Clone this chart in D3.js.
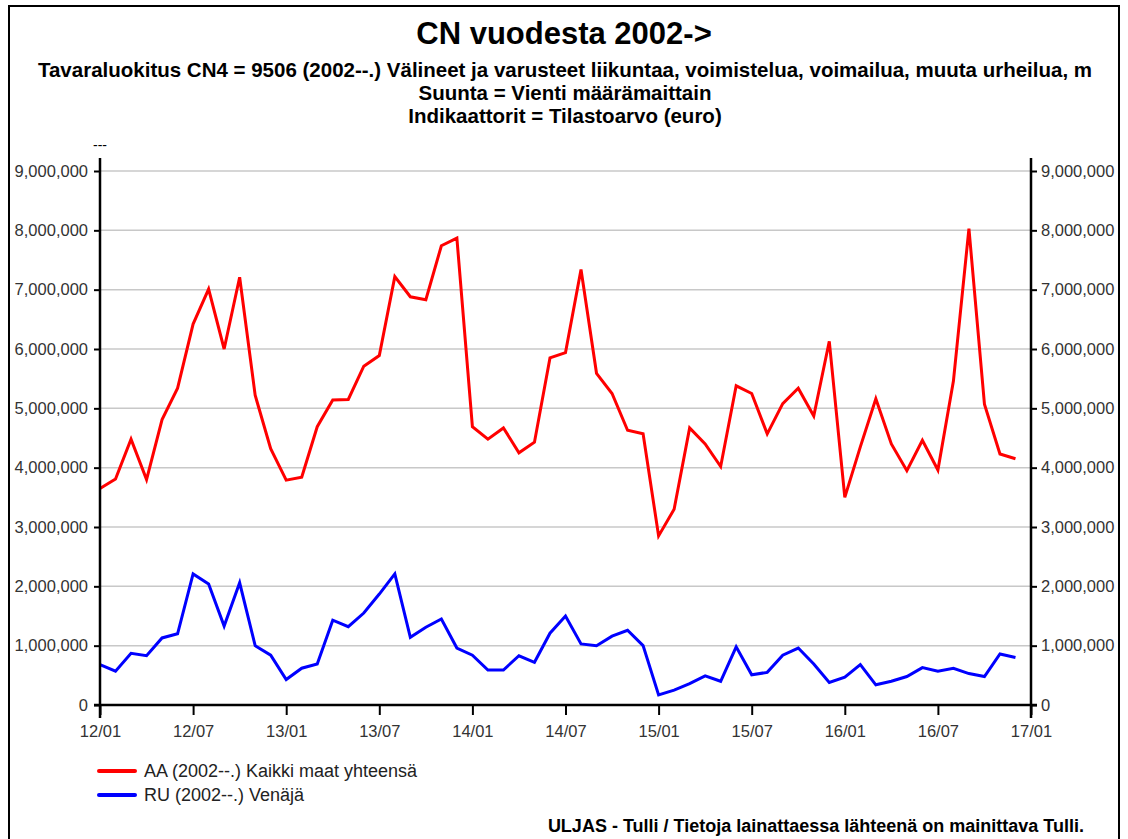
<!DOCTYPE html>
<html>
<head>
<meta charset="utf-8">
<script src="https://cdn.jsdelivr.net/npm/d3@7"></script>
<style>
  body { margin: 0; background: #fff; }
  svg { font-family: "Liberation Sans", Arial, sans-serif; }
</style>
</head>
<body>
<svg id="chart"></svg>
<script>
var svg_width = 1128;
var svg_height = 839;

// DATA (monthly, 2012/01 .. 2016/12)
var tickLabels = ["12/01", "12/07", "13/01", "13/07", "14/01", "14/07", "15/01", "15/07", "16/01", "16/07", "17/01"];
var seriesNames = ["AA (2002--.) Kaikki maat yhteensä", "RU (2002--.) Venäjä"];
var seriesColors = ["#ff0000", "#0000ff"];

var totalValues = [
  3650000, 3810000, 4480000, 3800000, 4810000, 5340000, 6420000, 7010000, 6000000, 7210000, 5220000, 4320000,
  3790000, 3840000, 4690000, 5140000, 5150000, 5710000, 5890000, 7220000, 6880000, 6830000, 7740000, 7870000,
  4690000, 4480000, 4670000, 4250000, 4430000, 5850000, 5940000, 7340000, 5590000, 5250000, 4630000, 4570000,
  2850000, 3300000, 4670000, 4400000, 4020000, 5380000, 5250000, 4570000, 5080000, 5340000, 4870000, 6130000,
  3500000, 4350000, 5160000, 4400000, 3950000, 4460000, 3960000, 5460000, 8030000, 5070000, 4230000, 4150000
];
var russiaValues = [
  680000, 570000, 870000, 830000, 1130000, 1200000, 2210000, 2040000, 1330000, 2060000, 1000000, 840000,
  430000, 620000, 690000, 1430000, 1320000, 1550000, 1870000, 2210000, 1140000, 1310000, 1450000, 960000,
  840000, 590000, 590000, 830000, 720000, 1210000, 1500000, 1030000, 1000000, 1160000, 1260000, 1000000,
  170000, 250000, 360000, 490000, 400000, 980000, 510000, 550000, 840000, 960000, 690000, 380000,
  470000, 680000, 340000, 400000, 480000, 630000, 570000, 620000, 530000, 480000, 860000, 800000
];

var plotLeft = 100, plotRight = 1031, plotTop = 171, plotBottom = 705;

var svg = d3.select("#chart")
    .attr("width", svg_width)
    .attr("height", svg_height);

// frame
svg.append("path")
    .attr("d", "M9,845 V6 H1119 V845")
    .attr("fill", "none")
    .attr("stroke", "#000")
    .attr("stroke-width", 2);

// SCALES
var xScale = d3.scaleLinear().domain([0, 60]).range([plotLeft, plotRight]);
var yScale = d3.scaleLinear().domain([0, 9000000]).range([plotBottom, plotTop]);

// gridlines
svg.append("g")
  .selectAll("line")
  .data(yScale.ticks(9).filter(function(d) { return d > 0; }))
  .enter()
  .append("line")
    .attr("x1", plotLeft)
    .attr("x2", plotRight)
    .attr("y1", function(d) { return yScale(d); })
    .attr("y2", function(d) { return yScale(d); })
    .attr("stroke", "#c8c8c8")
    .attr("stroke-width", 1.5);

// LINES
var line = d3.line()
    .x(function(d, i) { return xScale(i); })
    .y(function(d) { return yScale(d); });

[totalValues, russiaValues].forEach(function(vals, k) {
  svg.append("path")
      .datum(vals)
      .attr("d", line)
      .attr("fill", "none")
      .attr("stroke", seriesColors[k])
      .attr("stroke-width", 3)
      .attr("stroke-linejoin", "miter");
});

// AXES
var fmt = d3.format(",");
var yAxisL = d3.axisLeft(yScale).ticks(9).tickFormat(fmt).tickSize(6).tickSizeOuter(0).tickPadding(6);
var yAxisR = d3.axisRight(yScale).ticks(9).tickFormat(fmt).tickSize(6).tickSizeOuter(0).tickPadding(4);
var xAxis = d3.axisBottom(xScale)
    .tickValues(d3.range(0, 61, 6))
    .tickFormat(function(d, i) { return tickLabels[i]; })
    .tickSize(10).tickSizeOuter(0).tickPadding(10);

function styleAxis(g) {
  g.select(".domain").remove();
  g.selectAll(".tick line").attr("stroke", "#000").attr("stroke-width", 2);
  g.selectAll(".tick text").attr("fill", "#333").attr("font-size", 16.5)
      .attr("font-family", "Liberation Sans, Arial, sans-serif");
}

svg.append("g").attr("transform", "translate(" + plotLeft + ",0)").call(yAxisL).call(styleAxis);
svg.append("g").attr("transform", "translate(" + plotRight + ",0)").call(yAxisR).call(styleAxis);
svg.append("g").attr("transform", "translate(0," + plotBottom + ")").call(xAxis).call(styleAxis);

// axis lines
[[plotLeft, 158, plotLeft, 718], [plotRight, 158, plotRight, 718], [plotLeft - 6, plotBottom, plotRight + 6, plotBottom]].forEach(function(p) {
  svg.append("line")
      .attr("x1", p[0]).attr("y1", p[1]).attr("x2", p[2]).attr("y2", p[3])
      .attr("stroke", "#000").attr("stroke-width", 2.5);
});

svg.append("text")
    .attr("x", plotLeft)
    .attr("y", 150)
    .attr("text-anchor", "middle")
    .attr("font-size", 14)
    .text("---");

// TITLES
svg.append("text")
    .attr("x", 564).attr("y", 44)
    .attr("text-anchor", "middle")
    .attr("font-size", 31).attr("font-weight", "bold")
    .text("CN vuodesta 2002->");

var subtitles = [
  "Tavaraluokitus CN4 = 9506 (2002--.) Välineet ja varusteet liikuntaa, voimistelua, voimailua, muuta urheilua, m",
  "Suunta = Vienti määrämaittain",
  "Indikaattorit = Tilastoarvo (euro)"
];
svg.append("g")
  .selectAll("text")
  .data(subtitles)
  .enter()
  .append("text")
    .attr("x", 565)
    .attr("y", function(d, i) { return 77 + i * 23; })
    .attr("text-anchor", "middle")
    .attr("font-size", 20.5).attr("font-weight", "bold")
    .text(function(d) { return d; });

// LEGEND
var legend = svg.append("g")
  .selectAll("g")
  .data(seriesNames)
  .enter()
  .append("g")
    .attr("transform", function(d, i) { return "translate(99," + (771 + i * 24) + ")"; });
legend.append("line")
    .attr("x1", 0).attr("x2", 36)
    .attr("stroke", function(d, i) { return seriesColors[i]; })
    .attr("stroke-width", 4)
    .attr("stroke-linecap", "round");
legend.append("text")
    .attr("x", 45).attr("y", 6)
    .attr("font-size", 18)
    .attr("fill", "#222")
    .text(function(d) { return d; });

svg.append("text")
    .attr("x", 1084).attr("y", 832)
    .attr("text-anchor", "end")
    .attr("font-size", 18).attr("font-weight", "bold")
    .text("ULJAS - Tulli / Tietoja lainattaessa lähteenä on mainittava Tulli.");
</script>
</body>
</html>
